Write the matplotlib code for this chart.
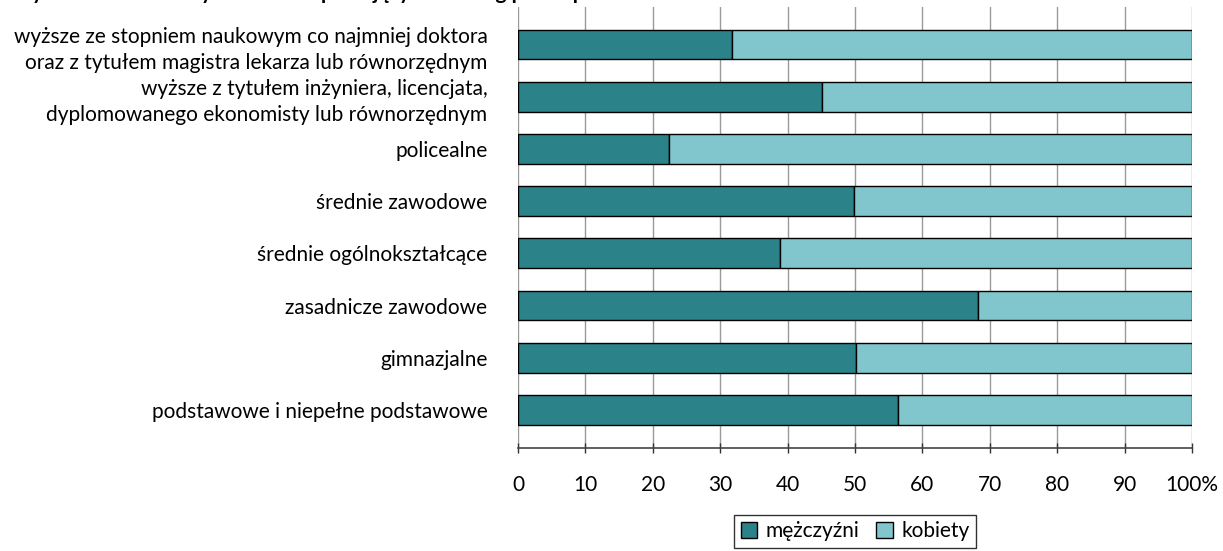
import matplotlib
matplotlib.use("Agg")
import matplotlib.pyplot as plt

plt.rcParams['font.family'] = ['Lato', 'DejaVu Sans']

categories = [
    "wyższe ze stopniem naukowym co najmniej doktora\noraz z tytułem magistra lekarza lub równorzędnym",
    "wyższe z tytułem inżyniera, licencjata,\ndyplomowanego ekonomisty lub równorzędnym",
    "policealne",
    "średnie zawodowe",
    "średnie ogólnokształcące",
    "zasadnicze zawodowe",
    "gimnazjalne",
    "podstawowe i niepełne podstawowe",
]
men = [31.7, 45.1, 22.4, 49.9, 38.8, 68.2, 50.1, 56.4]
women = [100 - m for m in men]
series_names = ["mężczyźni", "kobiety"]
xtick_values = [0, 10, 20, 30, 40, 50, 60, 70, 80, 90, 100]
xtick_labels = ["0", "10", "20", "30", "40", "50", "60", "70", "80", "90", "100%"]
title = "Wykres 5. Poziom wykształcenia pracujących według płci w powiecie w 2011 r."

W, H = 1223, 551
fig = plt.figure(figsize=(W / 100, H / 100), dpi=100)
ax = fig.add_axes([518 / W, 1 - 448 / H, 674 / W, 441 / H])

n = len(categories)
ypos = [n - 1 - i for i in range(n)]
dark = "#2B8289"
light = "#82C6CD"
h = 0.57
ax.barh(ypos, men, height=h, color=dark, edgecolor="black", linewidth=1.0, zorder=3, label=series_names[0])
ax.barh(ypos, women, left=men, height=h, color=light, edgecolor="black", linewidth=1.0, zorder=3, label=series_names[1])

ax.set_xlim(0, 100)
ax.set_ylim(-0.73, n - 1 + 0.72)
ax.set_xticks(xtick_values)
ax.set_xticklabels(xtick_labels, fontsize=15)
ax.set_yticks(ypos)
ax.set_yticklabels(categories, fontsize=15, linespacing=1.42)
ax.tick_params(axis="y", length=0, pad=22)
ax.tick_params(axis="x", direction="inout", length=7, width=1, color="#333333", pad=16)

ax.grid(axis="x", color="#9a9a9a", linewidth=1, zorder=0)
ax.set_axisbelow(True)
for s in ["top", "right", "left"]:
    ax.spines[s].set_visible(False)
ax.spines["bottom"].set_color("#444444")
ax.spines["bottom"].set_linewidth(1.2)

leg = fig.legend(loc="upper center", bbox_to_anchor=(855 / W, 1 - 515 / H), ncol=2,
                 fontsize=15, frameon=True, fancybox=False, edgecolor="black",
                 handlelength=0.8, handleheight=0.8, handletextpad=0.4, columnspacing=0.8,
                 borderpad=0.3, borderaxespad=0)
leg.get_frame().set_linewidth(1.0)

fig.text(10 / W, 1 + 1 / H, title, ha="left", va="baseline", fontsize=15, fontweight="bold")

fig.savefig("out.png", dpi=100)
